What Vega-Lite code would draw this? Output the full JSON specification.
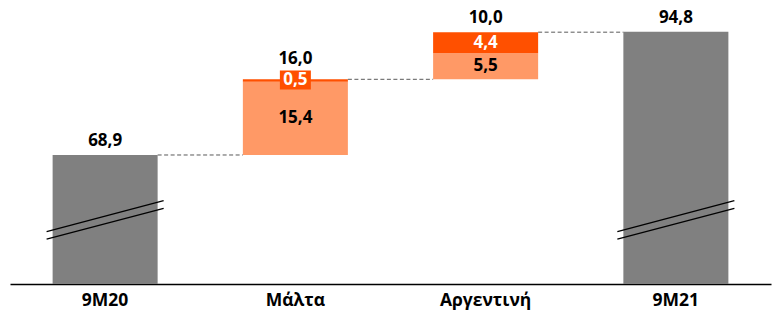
{
  "$schema": "https://vega.github.io/schema/vega-lite/v6.json",
  "width": 761,
  "height": 284,
  "autosize": {"type": "none"},
  "padding": {"left": 10, "top": 0, "right": 6, "bottom": 29},
  "background": "white",
  "config": {"view": {"stroke": null}, "font": "Open Sans"},
  "datasets": {
    "segments": [
      {"cat": "9M20", "kind": "total", "start": 0, "end": 68.9, "label": ""},
      {"cat": "Μάλτα", "kind": "light", "start": 68.9, "end": 84.3, "label": "15,4"},
      {"cat": "Μάλτα", "kind": "dark", "start": 84.3, "end": 84.8, "label": "0,5"},
      {"cat": "Αργεντινή", "kind": "light", "start": 84.8, "end": 90.3, "label": "5,5"},
      {"cat": "Αργεντινή", "kind": "dark", "start": 90.3, "end": 94.7, "label": "4,4"},
      {"cat": "9M21", "kind": "total", "start": 0, "end": 94.8, "label": ""}
    ],
    "totals": [
      {"cat": "9M20", "top": 68.9, "label": "68,9"},
      {"cat": "Μάλτα", "top": 84.8, "label": "16,0"},
      {"cat": "Αργεντινή", "top": 94.7, "label": "10,0"},
      {"cat": "9M21", "top": 94.8, "label": "94,8"}
    ],
    "connectors": [
      {"from": "9M20", "to": "Μάλτα", "level": 68.9},
      {"from": "Μάλτα", "to": "Αργεντινή", "level": 84.8},
      {"from": "Αργεντινή", "to": "9M21", "level": 94.7}
    ],
    "breaks": [
      {"cat": "9M20", "left": 52.8, "right": 59.3},
      {"cat": "9M20", "left": 51.25, "right": 57.7},
      {"cat": "9M21", "left": 52.8, "right": 59.3},
      {"cat": "9M21", "left": 51.25, "right": 57.7}
    ]
  },
  "encoding": {
    "x": {
      "field": "cat",
      "type": "nominal",
      "sort": ["9M20", "Μάλτα", "Αργεντινή", "9M21"],
      "scale": {"domain": ["9M20", "Μάλτα", "Αργεντινή", "9M21"], "paddingInner": 0.448, "paddingOuter": 0.224},
      "axis": {
        "title": null,
        "labelAngle": 0,
        "ticks": false,
        "domainColor": "#000000",
        "domainWidth": 1.5,
        "labelFont": "Open Sans",
        "labelFontWeight": "bold",
        "labelFontSize": 17.5,
        "labelColor": "#000000",
        "labelPadding": 7
      }
    }
  },
  "layer": [
    {
      "data": {"name": "segments"},
      "mark": {"type": "bar", "clip": true},
      "encoding": {
        "y": {"field": "start", "type": "quantitative", "scale": {"domain": [41.8, 101.46], "zero": false, "nice": false}, "axis": null},
        "y2": {"field": "end"},
        "color": {
          "field": "kind",
          "type": "nominal",
          "scale": {"domain": ["total", "light", "dark"], "range": ["#808080", "#FF9966", "#FF5000"]},
          "legend": null
        }
      }
    },
    {
      "data": {"name": "breaks"},
      "mark": {"type": "rule", "color": "#000000", "strokeWidth": 1.3, "xOffset": -6, "x2Offset": 6},
      "encoding": {
        "x": {"field": "cat", "type": "nominal", "bandPosition": 0},
        "x2": {"field": "cat", "bandPosition": 1},
        "y": {"field": "left", "type": "quantitative"},
        "y2": {"field": "right"}
      }
    },
    {
      "data": {"name": "connectors"},
      "mark": {"type": "rule", "color": "#595959", "strokeWidth": 1, "strokeDash": [4, 2.5]},
      "encoding": {
        "x": {"field": "from", "type": "nominal", "bandPosition": 1},
        "x2": {"field": "to", "bandPosition": 0},
        "y": {"field": "level", "type": "quantitative"}
      }
    },
    {
      "data": {"name": "segments"},
      "transform": [{"filter": "datum.label == '0,5'"}, {"calculate": "(datum.start + datum.end) / 2", "as": "mid"}],
      "mark": {"type": "bar", "width": 31, "color": "#FF5000", "yOffset": -10, "y2Offset": 9},
      "encoding": {
        "y": {"field": "mid", "type": "quantitative"},
        "y2": {"field": "mid"}
      }
    },
    {
      "data": {"name": "segments"},
      "transform": [{"filter": "datum.label != ''"}, {"calculate": "(datum.start + datum.end) / 2", "as": "mid"}],
      "mark": {"type": "text", "font": "Open Sans", "fontWeight": "bold", "fontSize": 17, "baseline": "middle", "align": "center", "dy": 0},
      "encoding": {
        "y": {"field": "mid", "type": "quantitative"},
        "text": {"field": "label"},
        "color": {
          "condition": {"test": "datum.kind == 'dark'", "value": "#FFFFFF"},
          "value": "#000000"
        }
      }
    },
    {
      "data": {"name": "totals"},
      "transform": [{"filter": "datum.cat != 'Μάλτα'"}],
      "mark": {"type": "text", "font": "Open Sans", "fontWeight": "bold", "fontSize": 17, "baseline": "middle", "align": "center", "dy": -14},
      "encoding": {
        "y": {"field": "top", "type": "quantitative"},
        "text": {"field": "label"},
        "color": {"value": "#000000"}
      }
    },
    {
      "data": {"name": "totals"},
      "transform": [{"filter": "datum.cat == 'Μάλτα'"}],
      "mark": {"type": "text", "font": "Open Sans", "fontWeight": "bold", "fontSize": 17, "baseline": "middle", "align": "center", "dy": -20},
      "encoding": {
        "y": {"field": "top", "type": "quantitative"},
        "text": {"field": "label"},
        "color": {"value": "#000000"}
      }
    }
  ]
}
